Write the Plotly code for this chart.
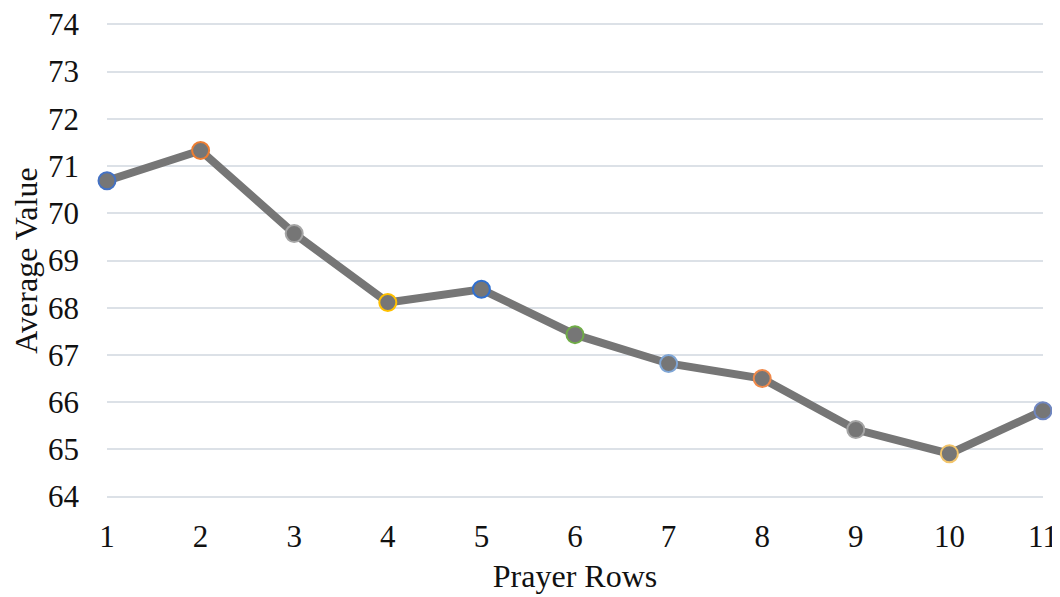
import plotly.graph_objs as go

rows = [1, 2, 3, 4, 5, 6, 7, 8, 9, 10, 11]
avg_values = [70.69, 71.33, 69.57, 68.11, 68.39, 67.43, 66.82, 66.50, 65.42, 64.91, 65.82]
outline_colors = ["#4472C4", "#ED7D31", "#A5A5A5", "#FFC000", "#2F6FD0", "#70AD47",
                  "#7FA6D6", "#F08A4B", "#A5A5A5", "#F2C46A", "#6F86C0"]
y_ticks = [64, 65, 66, 67, 68, 69, 70, 71, 72, 73, 74]

fig = go.Figure()
fig.add_trace(
    go.Scatter(
        x=rows,
        y=avg_values,
        mode="lines+markers",
        line=dict(width=8, color="#767676"),
        marker=dict(size=17, color="#767676",
                    line=dict(width=2, color=outline_colors)),
        cliponaxis=False,
        showlegend=False
    )
)

# page body adds ~8px offset, margins compensate for it
fig.update_layout(
    width=1060,
    height=597,
    margin=dict(l=99, r=25, t=14, b=106, autoexpand=False),
    plot_bgcolor="white",
    paper_bgcolor="white",
    font=dict(family="Liberation Serif", color="#111111", size=31),
    xaxis=dict(
        range=[1, 11],
        tickvals=rows,
        showgrid=False,
        zeroline=False,
        showline=False,
        automargin=False,
        ticklabelstandoff=16,
        ticklabeloverflow="allow",
        tickfont=dict(size=31),
        title=dict(text="Prayer Rows", font=dict(size=32), standoff=11),
    ),
    yaxis=dict(
        range=[63.95, 74.05],
        tickvals=y_ticks,
        showgrid=True,
        gridcolor="#DCE1E7",
        gridwidth=2,
        zeroline=False,
        showline=False,
        automargin=False,
        ticklabelstandoff=27,
        ticklabeloverflow="allow",
        tickfont=dict(size=31),
        title=dict(text="Average Value", font=dict(size=32), standoff=7),
    ),
)

fig.write_html("out.html")
